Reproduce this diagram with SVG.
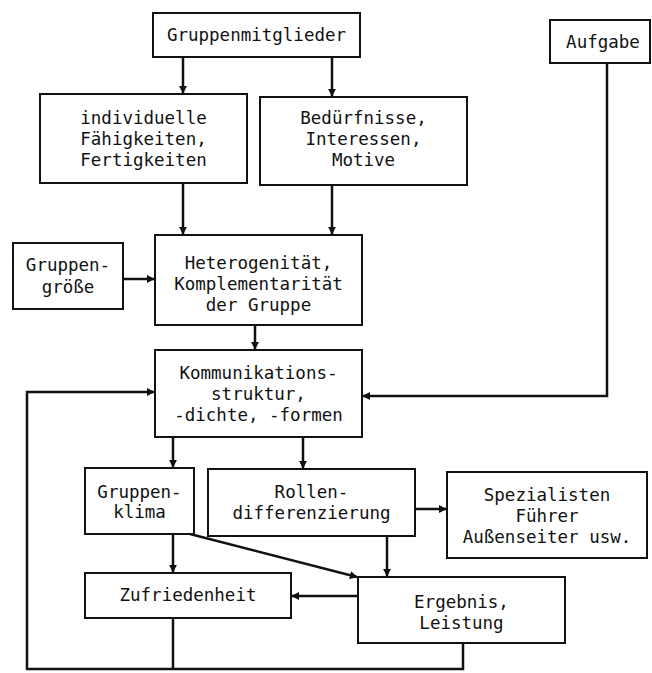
<svg xmlns="http://www.w3.org/2000/svg" width="652" height="673" viewBox="0 0 652 673">
  <defs>
    <style>
      .box { fill: #ffffff; stroke: #111; stroke-width: 2; }
      .lbl { font-family: "DejaVu Sans Mono", "Liberation Mono", monospace; font-size: 17.5px; fill: #111; text-anchor: middle; }
      .wire { fill: none; stroke: #111; stroke-width: 2.5; stroke-linejoin: miter; }
    </style>
    <marker id="tip" viewBox="0 0 10 10" refX="9" refY="5" markerWidth="3.2" markerHeight="3.2" orient="auto" markerUnits="strokeWidth">
      <path d="M0,0 L10,5 L0,10 z" fill="#111"/>
    </marker>
  </defs>
  <rect width="652" height="673" fill="#ffffff"/>

  <!-- connectors -->
  <g id="connectors" class="wire">
    <path d="M183,57 V93" marker-end="url(#tip)"/>
    <path d="M332,57 V96" marker-end="url(#tip)"/>
    <path d="M183,183 V234" marker-end="url(#tip)"/>
    <path d="M332,185 V234" marker-end="url(#tip)"/>
    <path d="M123,279 H154" marker-end="url(#tip)"/>
    <path d="M255,325 V349" marker-end="url(#tip)"/>
    <path d="M607,63 V396 H363" marker-end="url(#tip)"/>
    <path d="M173,437 V467" marker-end="url(#tip)"/>
    <path d="M303,437 V468" marker-end="url(#tip)"/>
    <path d="M415,509 H446" marker-end="url(#tip)"/>
    <path d="M173,534 V572" marker-end="url(#tip)"/>
    <path d="M190,534 L357,577" marker-end="url(#tip)"/>
    <path d="M387,536 V576" marker-end="url(#tip)"/>
    <path d="M358,596 H292" marker-end="url(#tip)"/>
    <path d="M173,618 V669"/>
    <path d="M463,643 V669 H27 V392 H154" marker-end="url(#tip)"/>
  </g>

  <g id="gruppenmitglieder">
    <rect class="box" x="153" y="13" width="207" height="44"/>
    <text class="lbl" x="256.5" y="41">Gruppenmitglieder</text>
  </g>

  <g id="aufgabe">
    <rect class="box" x="550" y="20" width="100" height="43"/>
    <text class="lbl" x="603" y="48">Aufgabe</text>
  </g>

  <g id="faehigkeiten">
    <rect class="box" x="40" y="94" width="207" height="89"/>
    <text class="lbl" x="143.5" y="124">individuelle</text>
    <text class="lbl" x="143.5" y="145">Fähigkeiten,</text>
    <text class="lbl" x="143.5" y="166">Fertigkeiten</text>
  </g>

  <g id="beduerfnisse">
    <rect class="box" x="260" y="97" width="207" height="88"/>
    <text class="lbl" x="363.5" y="124">Bedürfnisse,</text>
    <text class="lbl" x="363.5" y="145">Interessen,</text>
    <text class="lbl" x="363.5" y="166">Motive</text>
  </g>

  <g id="gruppengroesse">
    <rect class="box" x="13" y="243" width="110" height="66"/>
    <text class="lbl" x="68" y="271">Gruppen-</text>
    <text class="lbl" x="68" y="293">größe</text>
  </g>

  <g id="heterogenitaet">
    <rect class="box" x="155" y="235" width="207" height="90"/>
    <text class="lbl" x="258.5" y="269">Heterogenität,</text>
    <text class="lbl" x="258.5" y="290">Komplementarität</text>
    <text class="lbl" x="258.5" y="311">der Gruppe</text>
  </g>

  <g id="kommunikation">
    <rect class="box" x="155" y="350" width="207" height="87"/>
    <text class="lbl" x="258.5" y="379">Kommunikations-</text>
    <text class="lbl" x="258.5" y="400">struktur,</text>
    <text class="lbl" x="258.5" y="421">-dichte, -formen</text>
  </g>

  <g id="gruppenklima">
    <rect class="box" x="85" y="468" width="109" height="66"/>
    <text class="lbl" x="139.5" y="498">Gruppen-</text>
    <text class="lbl" x="139.5" y="518">klima</text>
  </g>

  <g id="rollendifferenzierung">
    <rect class="box" x="208" y="469" width="207" height="67"/>
    <text class="lbl" x="311.5" y="498">Rollen-</text>
    <text class="lbl" x="311.5" y="519">differenzierung</text>
  </g>

  <g id="rollen">
    <rect class="box" x="447" y="472" width="200" height="86"/>
    <text class="lbl" x="547" y="501">Spezialisten</text>
    <text class="lbl" x="547" y="522">Führer</text>
    <text class="lbl" x="547" y="543">Außenseiter usw.</text>
  </g>

  <g id="zufriedenheit">
    <rect class="box" x="85" y="573" width="206" height="45"/>
    <text class="lbl" x="188" y="601">Zufriedenheit</text>
  </g>

  <g id="ergebnis">
    <rect class="box" x="358" y="577" width="207" height="66"/>
    <text class="lbl" x="461.5" y="608">Ergebnis,</text>
    <text class="lbl" x="461.5" y="629">Leistung</text>
  </g>
</svg>
